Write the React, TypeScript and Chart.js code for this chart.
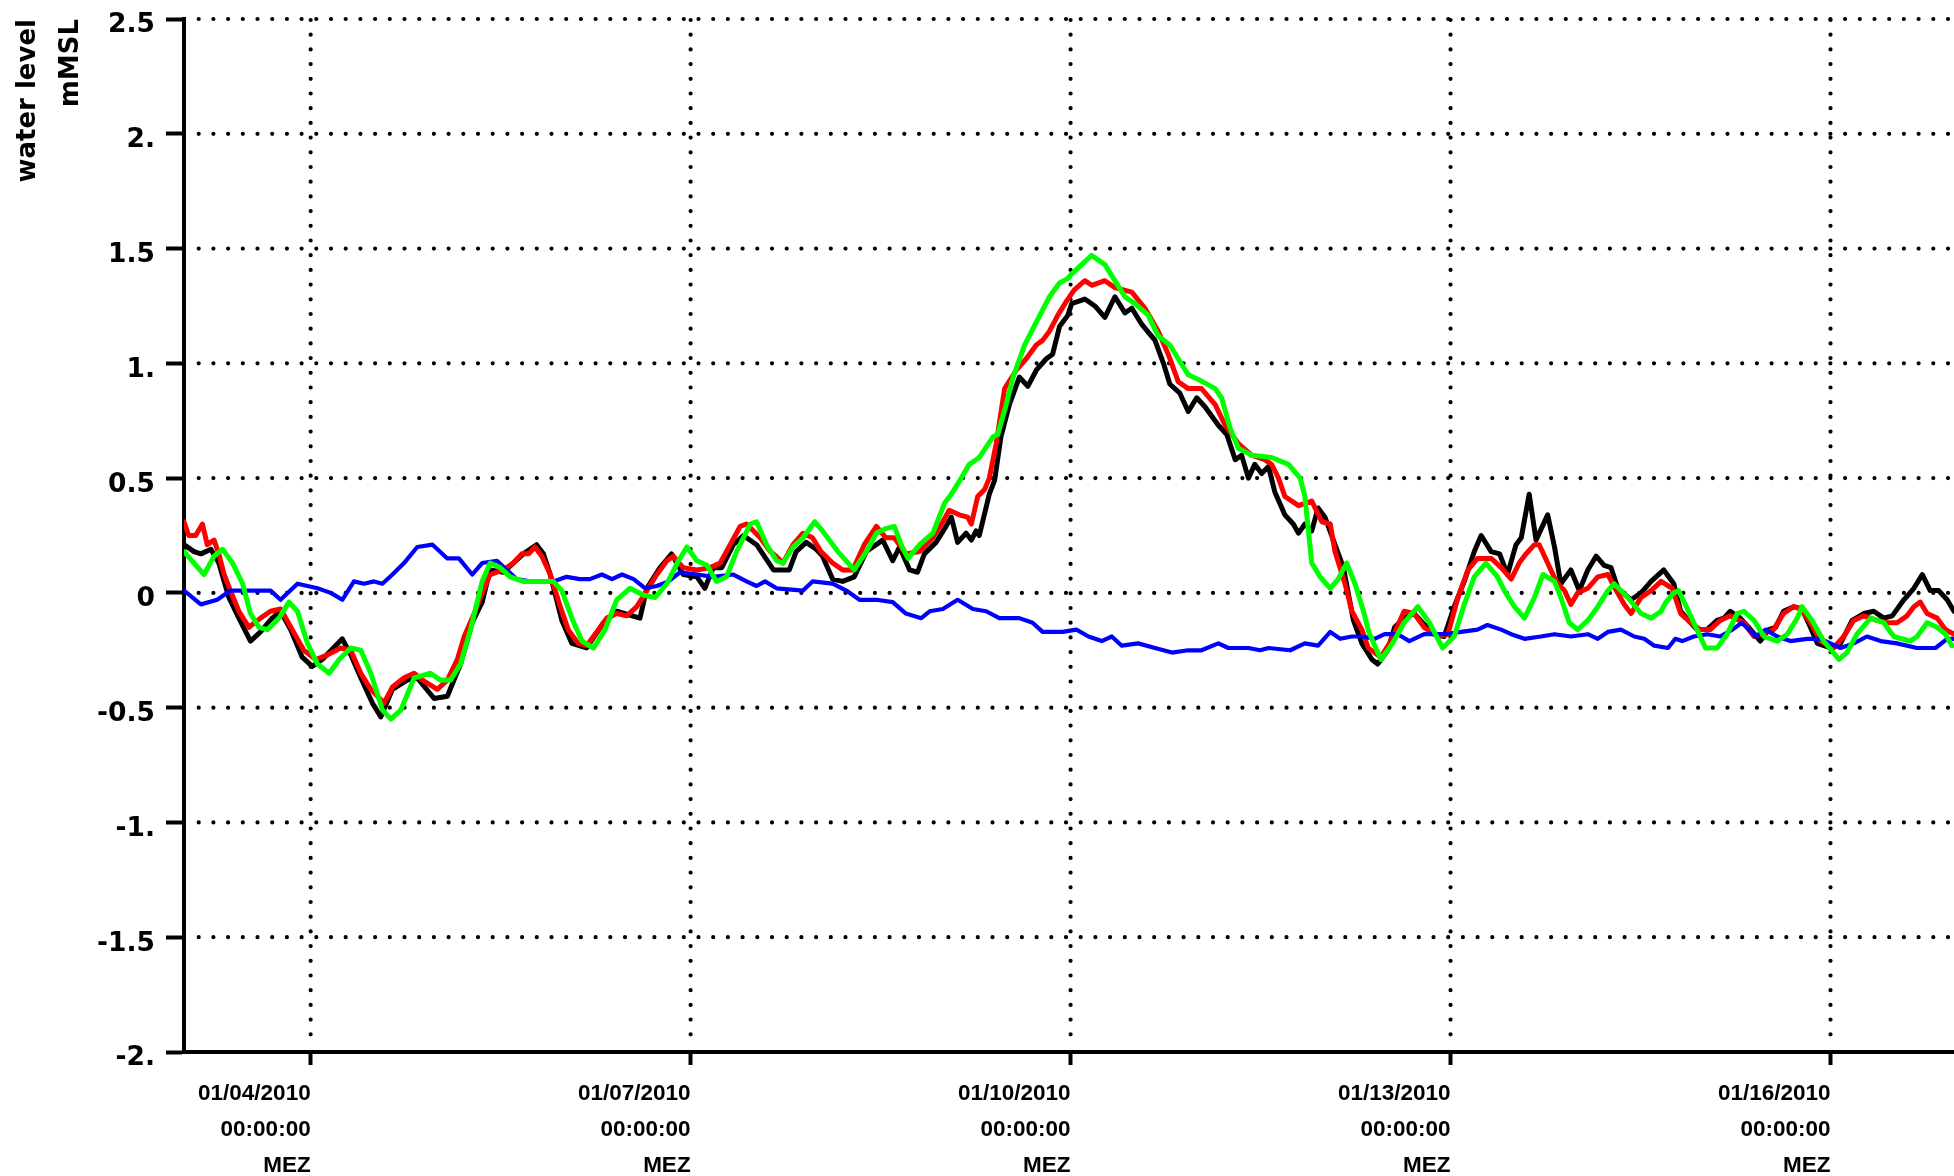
import React, { useEffect, useRef } from "react";
import { Chart, registerables } from "chart.js";

Chart.register(...registerables);

// ---- axes (x in hours since 01/03/2010 00:00 MEZ) ----
const X_MIN = 0;
const X_MAX = 335.4;
const X_TICK_HOURS = [24, 96, 168, 240, 312];
const X_TICK_LABELS = [
  ["01/04/2010", "00:00:00", "MEZ"],
  ["01/07/2010", "00:00:00", "MEZ"],
  ["01/10/2010", "00:00:00", "MEZ"],
  ["01/13/2010", "00:00:00", "MEZ"],
  ["01/16/2010", "00:00:00", "MEZ"],
];
const Y_MIN = -2;
const Y_MAX = 2.5;
const Y_TICK_VALUES = [-2, -1.5, -1, -0.5, 0, 0.5, 1, 1.5, 2, 2.5];
const Y_TICK_LABELS = ["-2.", "-1.5", "-1.", "-0.5", "0", "0.5", "1.", "1.5", "2.", "2.5"];
const Y_TITLE = ["water level", "mMSL"];

// ---- black series ----
const BLACK_T = [
  0, 1.9, 3.2, 5.1, 6.6, 8.5, 10.4, 12.6, 14.5, 16.7,
  18.3, 20.2, 22.4, 24.3, 26.2, 30.0, 31.6, 33.5, 35.7, 37.3,
  39.5, 42.3, 44.2, 47.4, 49.9, 52.4, 54.6, 56.5, 58.0, 60.5,
  62.4, 64.3, 66.8, 68.1, 69.4, 71.6, 73.5, 76.3, 79.5, 82.0,
  86.4, 87.7, 90.2, 92.4, 94.6, 97.2, 98.7, 100.3, 101.9, 104.1,
  106.0, 108.5, 111.7, 114.7, 116.0, 117.9, 119.8, 121.0, 122.9, 124.8,
  127.0, 129.3, 132.4, 134.3, 135.6, 137.5, 139.0, 140.3, 142.5, 144.4,
  145.4, 146.6, 148.2, 149.2, 150.1, 150.7, 152.6, 153.6, 154.8, 156.4,
  158.3, 159.9, 161.5, 163.4, 164.6, 165.9, 167.5, 168.2, 170.7, 172.6,
  174.5, 176.4, 178.3, 179.6, 181.5, 184.0, 185.6, 186.8, 188.7, 190.3,
  191.9, 193.5, 196.0, 197.6, 199.2, 200.4, 201.7, 202.9, 204.2, 205.5,
  206.7, 208.6, 210.2, 211.2, 212.4, 213.7, 214.9, 216.2, 218.1, 219.7,
  221.6, 223.2, 225.1, 226.2, 228.1, 229.4, 231.2, 233.1, 234.7, 236.9,
  238.8, 240.7, 242.6, 244.5, 245.8, 247.7, 249.3, 250.8, 252.4, 253.4,
  254.9, 256.2, 258.4, 259.7, 260.9, 262.8, 264.4, 266.0, 267.6, 269.1,
  270.4, 271.7, 274.2, 276.1, 278.0, 280.4, 282.3, 283.6, 285.1, 286.7,
  288.6, 290.5, 291.8, 293.0, 294.9, 296.5, 298.7, 300.3, 301.6, 303.1,
  305.0, 306.6, 308.2, 309.5, 312.0, 313.9, 316.1, 318.3, 320.2, 322.1,
  323.7, 325.9, 327.8, 329.4, 330.9, 332.5, 334.1, 335.4,
];
const BLACK_V = [
  0.21, 0.18, 0.17, 0.19, 0.13, -0.02, -0.11, -0.21, -0.17, -0.11,
  -0.08, -0.16, -0.28, -0.32, -0.29, -0.2, -0.27, -0.37, -0.48, -0.54,
  -0.42, -0.38, -0.37, -0.46, -0.45, -0.31, -0.13, -0.04, 0.1, 0.09,
  0.13, 0.17, 0.21, 0.17, 0.08, -0.12, -0.22, -0.24, -0.13, -0.08,
  -0.11, 0.02, 0.11, 0.17, 0.08, 0.07, 0.02, 0.11, 0.11, 0.21,
  0.25, 0.21, 0.1, 0.1, 0.18, 0.22, 0.19, 0.16, 0.06, 0.05,
  0.07, 0.18, 0.23, 0.14, 0.2, 0.1, 0.09, 0.17, 0.22, 0.29,
  0.33, 0.22, 0.26, 0.23, 0.27, 0.25, 0.43, 0.49, 0.68, 0.82,
  0.94, 0.9, 0.97, 1.02, 1.04, 1.16, 1.21, 1.26, 1.28, 1.25,
  1.2, 1.29, 1.22, 1.24, 1.17, 1.1, 1.0, 0.91, 0.87, 0.79,
  0.85, 0.81, 0.73, 0.69, 0.58, 0.6, 0.5, 0.56, 0.52, 0.55,
  0.44, 0.34, 0.3, 0.26, 0.3, 0.27, 0.37, 0.33, 0.21, 0.11,
  -0.12, -0.22, -0.29, -0.31, -0.25, -0.15, -0.11, -0.09, -0.13, -0.18,
  -0.19, -0.06, 0.05, 0.18, 0.25, 0.18, 0.17, 0.08, 0.21, 0.24,
  0.43, 0.23, 0.34, 0.2, 0.04, 0.1, 0.01, 0.1, 0.16, 0.12,
  0.11, 0.02, -0.03, 0.0, 0.05, 0.1, 0.04, -0.08, -0.12, -0.16,
  -0.16, -0.12, -0.11, -0.08, -0.11, -0.15, -0.21, -0.16, -0.15, -0.08,
  -0.06, -0.07, -0.15, -0.22, -0.24, -0.22, -0.12, -0.09, -0.08, -0.11,
  -0.1, -0.03, 0.02, 0.08, 0.01, 0.01, -0.03, -0.08,
];

// ---- red series ----
const RED_T = [
  0, 0.9, 2.2, 3.5, 4.4, 5.7, 6.6, 7.6, 8.8, 10.4,
  12.3, 14.5, 16.4, 18.3, 19.3, 20.5, 22.7, 25.0, 27.2, 29.7,
  31.6, 33.5, 35.4, 37.9, 39.5, 41.7, 43.6, 45.2, 48.0, 49.9,
  51.8, 53.1, 55.0, 56.5, 58.0, 60.5, 62.4, 64.0, 65.3, 66.5,
  67.8, 69.4, 71.3, 72.8, 74.7, 76.3, 77.9, 80.1, 82.0, 83.9,
  85.8, 87.7, 89.6, 91.5, 92.7, 94.6, 97.2, 99.7, 101.6, 103.5,
  105.4, 106.6, 109.2, 111.1, 112.2, 113.5, 115.4, 117.3, 119.1, 120.7,
  122.9, 124.8, 126.7, 128.9, 131.2, 133.0, 134.6, 136.8, 139.4, 141.9,
  143.8, 145.0, 146.9, 148.5, 149.2, 150.4, 151.7, 152.6, 153.9, 155.5,
  157.7, 159.6, 161.5, 162.7, 164.0, 165.6, 167.2, 168.7, 170.7, 172.0,
  174.5, 176.4, 179.6, 182.1, 184.6, 186.5, 188.4, 190.3, 192.8, 195.4,
  197.3, 199.8, 202.3, 204.8, 206.1, 207.4, 208.6, 211.2, 213.7, 215.6,
  217.2, 218.1, 220.0, 221.3, 223.2, 224.4, 226.8, 228.7, 231.2, 233.1,
  235.0, 237.6, 239.5, 241.4, 243.3, 245.1, 247.7, 249.6, 251.5, 253.0,
  254.3, 255.9, 256.8, 258.4, 260.0, 261.6, 262.8, 264.1, 266.0, 267.9,
  269.8, 271.4, 272.9, 274.2, 276.1, 278.0, 279.9, 282.0, 283.6, 285.5,
  287.3, 289.2, 291.1, 293.0, 295.6, 297.5, 300.0, 301.2, 303.1, 305.0,
  306.3, 308.2, 310.1, 312.6, 314.5, 316.4, 318.3, 320.8, 322.7, 324.6,
  326.5, 327.8, 329.0, 330.3, 332.2, 333.8, 335.4,
];
const RED_V = [
  0.31, 0.25, 0.25, 0.3, 0.21, 0.23, 0.17, 0.08, 0.01, -0.08,
  -0.15, -0.11, -0.08, -0.07, -0.11, -0.16, -0.25, -0.29, -0.27, -0.24,
  -0.25, -0.35, -0.42, -0.48, -0.41, -0.37, -0.35, -0.38, -0.42, -0.38,
  -0.29, -0.19, -0.09, 0.0, 0.08, 0.1, 0.13, 0.17, 0.17, 0.2,
  0.16, 0.08, -0.06, -0.16, -0.22, -0.23, -0.18, -0.11, -0.09, -0.1,
  -0.06, 0.01, 0.08, 0.14, 0.16, 0.11, 0.1, 0.11, 0.13, 0.21,
  0.29, 0.3, 0.24, 0.18, 0.16, 0.13, 0.21, 0.26, 0.24, 0.18,
  0.13, 0.1, 0.1, 0.21, 0.29, 0.24, 0.24, 0.17, 0.18, 0.24,
  0.31, 0.36, 0.34, 0.33, 0.3, 0.42, 0.45, 0.5, 0.65, 0.89,
  0.97, 1.02, 1.08, 1.1, 1.14, 1.21, 1.27, 1.32, 1.36, 1.34,
  1.36, 1.33, 1.31, 1.24, 1.14, 1.04, 0.92, 0.89, 0.89, 0.82,
  0.73, 0.65, 0.6, 0.58, 0.56, 0.5, 0.42, 0.38, 0.4, 0.31,
  0.3, 0.18, 0.04, -0.08, -0.16, -0.24, -0.28, -0.21, -0.08, -0.09,
  -0.15, -0.19, -0.18, -0.02, 0.1, 0.15, 0.15, 0.11, 0.06, 0.13,
  0.17, 0.21, 0.21, 0.13, 0.05, 0.01, -0.05, 0.0, 0.02, 0.07,
  0.08, 0.01, -0.05, -0.09, -0.02, 0.01, 0.05, 0.02, -0.09, -0.13,
  -0.16, -0.16, -0.12, -0.1, -0.13, -0.19, -0.17, -0.16, -0.09, -0.06,
  -0.07, -0.13, -0.21, -0.24, -0.19, -0.12, -0.1, -0.12, -0.13, -0.13,
  -0.1, -0.06, -0.04, -0.09, -0.11, -0.16, -0.18,
];

// ---- green series ----
const GREEN_T = [
  0, 1.9, 3.8, 5.7, 7.3, 9.2, 11.1, 12.6, 14.2, 15.8,
  18.0, 19.9, 21.5, 23.4, 25.3, 27.5, 29.4, 31.6, 33.5, 35.4,
  37.6, 39.2, 41.1, 43.6, 46.7, 48.6, 50.5, 52.4, 54.3, 56.5,
  58.0, 59.9, 61.8, 64.3, 67.5, 70.0, 71.6, 73.5, 75.4, 77.6,
  79.8, 82.0, 84.5, 87.1, 89.3, 91.5, 93.7, 95.3, 97.2, 99.1,
  100.9, 102.8, 104.7, 107.3, 108.5, 110.4, 112.3, 113.5, 115.4, 117.3,
  119.5, 121.0, 123.9, 127.0, 129.3, 131.2, 133.0, 134.6, 135.9, 137.2,
  139.4, 141.9, 144.1, 145.4, 147.3, 148.8, 150.7, 153.3, 154.2, 155.8,
  157.1, 159.3, 161.5, 164.0, 165.9, 167.5, 168.2, 172.0, 174.5, 176.4,
  178.3, 180.2, 182.7, 184.6, 186.8, 188.4, 190.3, 192.2, 195.4, 196.6,
  198.2, 199.8, 202.3, 206.1, 209.3, 211.5, 212.4, 213.7, 215.3, 217.2,
  218.7, 220.3, 221.9, 223.5, 224.5, 226.8, 229.0, 231.2, 233.8, 236.0,
  238.5, 240.7, 242.6, 244.5, 246.7, 248.9, 250.2, 252.1, 254.0, 255.9,
  257.5, 259.7, 260.9, 262.5, 264.1, 266.0, 267.9, 269.8, 271.0, 273.6,
  276.1, 278.0, 279.9, 280.8, 282.3, 283.2, 285.1, 286.7, 288.3, 290.5,
  292.4, 294.3, 295.6, 297.5, 299.4, 301.9, 303.8, 305.7, 306.6, 308.5,
  310.7, 313.6, 315.1, 317.0, 319.6, 322.1, 324.0, 327.1, 328.4, 330.3,
  332.2, 333.8, 335.0,
];
const GREEN_V = [
  0.18, 0.13, 0.08, 0.16, 0.19, 0.13, 0.04, -0.09, -0.15, -0.16,
  -0.11, -0.04, -0.08, -0.22, -0.31, -0.35, -0.29, -0.24, -0.25, -0.35,
  -0.51, -0.55, -0.51, -0.37, -0.35, -0.38, -0.38, -0.31, -0.16, 0.05,
  0.13, 0.11, 0.07, 0.05, 0.05, 0.05, 0.01, -0.11, -0.21, -0.24,
  -0.16, -0.03, 0.02, -0.01, -0.02, 0.04, 0.14, 0.2, 0.14, 0.12,
  0.05, 0.07, 0.18, 0.3, 0.31, 0.21, 0.14, 0.13, 0.2, 0.24,
  0.31, 0.27, 0.18, 0.1, 0.18, 0.26, 0.28, 0.29, 0.21, 0.15,
  0.21, 0.26, 0.39, 0.43, 0.5, 0.56, 0.59, 0.68, 0.69, 0.82,
  0.94, 1.08, 1.18, 1.29, 1.35, 1.37, 1.39, 1.47, 1.43, 1.36,
  1.29, 1.26, 1.21, 1.12, 1.08, 1.02, 0.95, 0.93, 0.89, 0.85,
  0.72, 0.63, 0.6, 0.59, 0.56, 0.5, 0.42, 0.13, 0.07, 0.02,
  0.06, 0.13, 0.04, -0.08, -0.17, -0.29, -0.22, -0.13, -0.06, -0.13,
  -0.24, -0.19, -0.05, 0.07, 0.13, 0.07, 0.01, -0.06, -0.11, -0.02,
  0.08, 0.05, -0.02, -0.13, -0.16, -0.12, -0.06, 0.01, 0.04, -0.02,
  -0.09, -0.11, -0.08, -0.04, 0.0, 0.01, -0.08, -0.16, -0.24, -0.24,
  -0.18, -0.09, -0.08, -0.12, -0.19, -0.21, -0.18, -0.11, -0.06, -0.12,
  -0.21, -0.29, -0.26, -0.18, -0.11, -0.13, -0.19, -0.21, -0.19, -0.13,
  -0.15, -0.18, -0.23,
];

// ---- blue series ----
const BLUE_T = [
  0, 3.2, 6.3, 8.8, 16.4, 18.3, 21.5, 25.3, 27.8, 30.0,
  32.2, 34.1, 36.0, 37.6, 39.5, 41.7, 44.2, 47.1, 49.9, 52.1,
  54.6, 56.5, 59.3, 61.2, 63.0, 65.6, 67.5, 70.0, 72.5, 75.0,
  76.9, 79.2, 81.1, 83.0, 85.2, 87.4, 89.6, 91.8, 94.0, 97.2,
  100.3, 104.1, 106.6, 108.5, 110.1, 112.3, 117.3, 119.1, 122.9, 125.5,
  128.0, 131.2, 134.3, 136.8, 139.7, 141.3, 143.8, 146.6, 149.5, 152.0,
  154.5, 158.3, 160.8, 162.7, 166.5, 169.1, 171.4, 173.9, 175.8, 177.7,
  180.8, 184.0, 187.2, 190.3, 192.8, 196.0, 197.9, 201.7, 203.9, 205.5,
  209.6, 212.4, 214.9, 217.2, 219.1, 221.3, 223.2, 225.6, 227.5, 230.0,
  232.2, 235.0, 238.8, 242.0, 245.1, 247.0, 249.6, 251.5, 254.0, 257.1,
  259.7, 262.8, 266.0, 267.9, 269.8, 272.3, 274.8, 276.7, 278.6, 281.2,
  282.6, 283.9, 286.1, 288.6, 291.1, 293.4, 295.2, 297.8, 299.7, 301.9,
  304.4, 307.6, 310.1, 312.0, 313.9, 316.4, 318.9, 321.5, 324.6, 328.4,
  331.9, 334.1, 335.4,
];
const BLUE_V = [
  0.01, -0.05, -0.03, 0.01, 0.01, -0.03, 0.04, 0.02, 0.0, -0.03,
  0.05, 0.04, 0.05, 0.04, 0.08, 0.13, 0.2, 0.21, 0.15, 0.15,
  0.08, 0.13, 0.14, 0.1, 0.06, 0.05, 0.05, 0.05, 0.07, 0.06,
  0.06, 0.08, 0.06, 0.08, 0.06, 0.02, 0.03, 0.05, 0.09, 0.08,
  0.07, 0.08, 0.05, 0.03, 0.05, 0.02, 0.01, 0.05, 0.04, 0.01,
  -0.03, -0.03, -0.04, -0.09, -0.11, -0.08, -0.07, -0.03, -0.07, -0.08,
  -0.11, -0.11, -0.13, -0.17, -0.17, -0.16, -0.19, -0.21, -0.19, -0.23,
  -0.22, -0.24, -0.26, -0.25, -0.25, -0.22, -0.24, -0.24, -0.25, -0.24,
  -0.25, -0.22, -0.23, -0.17, -0.2, -0.19, -0.19, -0.2, -0.18, -0.18,
  -0.21, -0.18, -0.18, -0.17, -0.16, -0.14, -0.16, -0.18, -0.2, -0.19,
  -0.18, -0.19, -0.18, -0.2, -0.17, -0.16, -0.19, -0.2, -0.23, -0.24,
  -0.2, -0.21, -0.19, -0.18, -0.19, -0.16, -0.13, -0.19, -0.16, -0.19,
  -0.21, -0.2, -0.2, -0.22, -0.24, -0.22, -0.19, -0.21, -0.22, -0.24,
  -0.24, -0.2, -0.2,
];

const toPoints = (t: number[], v: number[]) => t.map((x, i) => ({ x, y: v[i] }));

const dottedGrid = {
  id: "dottedGrid",
  beforeDatasetsDraw(chart: any) {
    const { ctx, chartArea, scales } = chart;
    const { left, right, top, bottom } = chartArea;
    const gap = 14.7;
    ctx.save();
    ctx.strokeStyle = "#000";
    ctx.lineWidth = 4.2;
    ctx.lineCap = "round";
    ctx.setLineDash([0, gap]);
    for (const v of Y_TICK_VALUES) {
      if (v === Y_MIN) continue;
      const py = scales.y.getPixelForValue(v);
      ctx.beginPath();
      ctx.moveTo(left + gap, py);
      ctx.lineTo(right + 2, py);
      ctx.stroke();
    }
    for (const h of X_TICK_HOURS) {
      const px = scales.x.getPixelForValue(h);
      ctx.beginPath();
      ctx.moveTo(px, top + 1);
      ctx.lineTo(px, bottom - 8);
      ctx.stroke();
    }
    ctx.restore();
  },
};

export default function App() {
  const ref = useRef<HTMLCanvasElement | null>(null);

  useEffect(() => {
    if (!ref.current) return;
    const line = (label: string, t: number[], v: number[], color: string, width: number, order: number) => ({
      label,
      data: toPoints(t, v),
      borderColor: color,
      backgroundColor: color,
      borderWidth: width,
      pointRadius: 0,
      tension: 0,
      borderJoinStyle: "round" as const,
      borderCapStyle: "round" as const,
      order,
    });
    const chart = new Chart(ref.current, {
      type: "line",
      data: {
        datasets: [
          line("black", BLACK_T, BLACK_V, "#000000", 5, 4),
          line("red", RED_T, RED_V, "#ff0000", 5, 3),
          line("blue", BLUE_T, BLUE_V, "#0000ff", 4.2, 2),
          line("green", GREEN_T, GREEN_V, "#00ff00", 5, 1),
        ],
      },
      options: {
        animation: false,
        responsive: false,
        devicePixelRatio: 1,
        parsing: false as any,
        normalized: true,
        layout: { padding: { top: 19, right: 0, bottom: 0, left: 0 } },
        plugins: {
          legend: { display: false },
          tooltip: { enabled: false },
          title: { display: false },
        },
        scales: {
          x: {
            type: "linear",
            min: X_MIN,
            max: X_MAX,
            afterBuildTicks: (s: any) => {
              s.ticks = X_TICK_HOURS.map((value) => ({ value }));
            },
            afterFit: (s: any) => {
              s.height = 124;
              s.paddingLeft = 0;
              s.paddingRight = 0;
            },
            grid: {
              display: true,
              drawOnChartArea: false,
              drawTicks: true,
              tickLength: 13,
              tickWidth: 4,
              tickColor: "#000",
              color: "#000",
            },
            border: { display: true, color: "#000", width: 4 },
            ticks: {
              autoSkip: false,
              maxRotation: 0,
              minRotation: 0,
              align: "end",
              padding: 11,
              color: "#000",
              font: { family: "'Liberation Sans', Arial, sans-serif", size: 22.5, weight: "bold", lineHeight: "36px" },
              callback: (_v: any, i: number) => X_TICK_LABELS[i],
            },
          },
          y: {
            type: "linear",
            min: Y_MIN,
            max: Y_MAX,
            afterBuildTicks: (s: any) => {
              s.ticks = Y_TICK_VALUES.map((value) => ({ value }));
            },
            afterFit: (s: any) => {
              s.width = 184;
              s.paddingTop = 0;
              s.paddingBottom = 0;
            },
            grid: {
              display: true,
              drawOnChartArea: false,
              drawTicks: true,
              tickLength: 18,
              tickWidth: 4,
              tickColor: "#000",
              color: "#000",
            },
            border: { display: true, color: "#000", width: 4 },
            ticks: {
              autoSkip: false,
              padding: 11,
              labelOffset: 6.5,
              color: "#000",
              font: { family: "'DejaVu Sans', sans-serif", size: 26.5, weight: "bold" },
              callback: (_v: any, i: number) => Y_TICK_LABELS[i],
            },
            title: {
              display: true,
              text: Y_TITLE,
              align: "end",
              color: "#000",
              padding: { top: 6.5, bottom: 0 },
              font: { family: "'DejaVu Sans', sans-serif", size: 26, weight: "bold", lineHeight: "43px" },
            },
          },
        },
      },
      plugins: [dottedGrid],
    } as any);
    return () => chart.destroy();
  }, []);

  return (
    <div style={{ position: "absolute", left: 0, top: 0, width: 1954, height: 1176, background: "#fff" }}>
      <canvas ref={ref} width={1954} height={1176} style={{ width: 1954, height: 1176, display: "block" }} />
    </div>
  );
}
